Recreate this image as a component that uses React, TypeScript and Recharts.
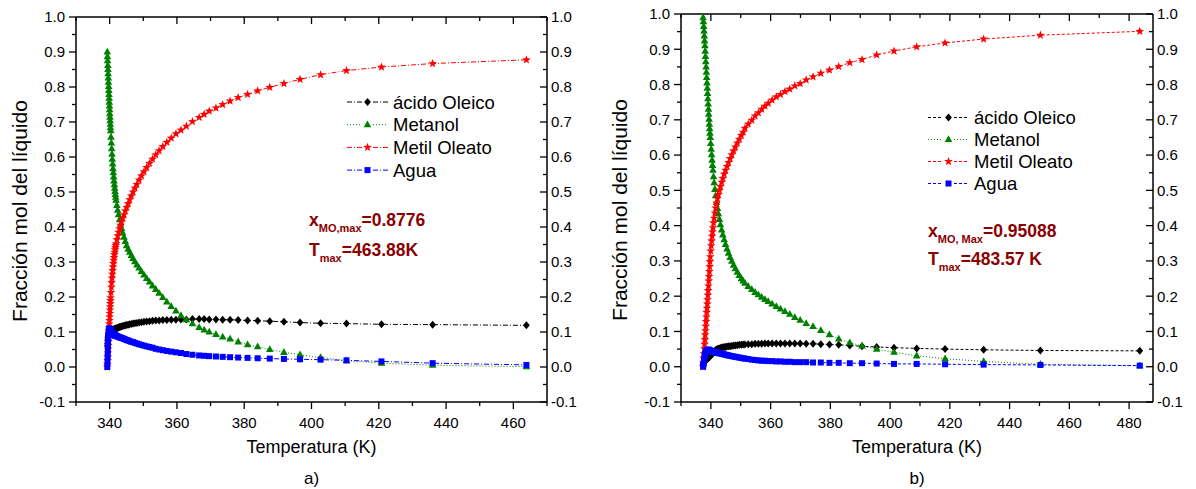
import { LineChart, Line, XAxis, YAxis } from "recharts";

const FONT = "Arial, 'Liberation Sans', Helvetica, sans-serif";
const ANNO = "#8b0000";

// ---- panel a) : temperature grid shared by the four species ----
const tempA = [
  339.3, 339.35, 339.4, 339.45, 339.5, 339.55, 339.6, 339.65, 339.7, 339.75, 339.8, 339.85, 339.9, 339.95, 340, 340.05, 340.1, 340.15, 340.2, 340.25, 340.3,
  340.4, 340.5, 340.6, 340.7, 340.8, 340.9, 341, 341.1, 341.2, 341.3, 341.4, 341.5, 341.6, 341.7, 341.8, 341.9,
  342.15, 342.4, 342.65, 342.95, 343.25, 343.55, 343.9, 344.25, 344.65, 345.05, 345.5, 345.95, 346.45, 346.95, 347.5, 348.1, 348.75, 349.45, 350.2, 351, 351.85, 352.75, 353.7, 354.7, 355.8, 357, 358.3, 359.7, 361.2, 362.8,
  364.6, 366.6, 368.1, 369.6, 371.6, 373.6, 375.8, 378.2, 381, 384, 387.6, 391.8, 396.6, 402.7, 410.4, 420.8, 436, 463.88,
];
const oleicoA = [
  0.06, 0.068, 0.075, 0.08, 0.084, 0.087, 0.089, 0.091, 0.092, 0.093, 0.094, 0.095, 0.096, 0.097, 0.097, 0.098, 0.098, 0.099, 0.099, 0.1, 0.1,
  0.101, 0.102, 0.103, 0.104, 0.104, 0.105, 0.106, 0.106, 0.107, 0.107, 0.108, 0.108, 0.109, 0.109, 0.11, 0.11,
  0.111, 0.112, 0.113, 0.114, 0.115, 0.116, 0.117, 0.118, 0.119, 0.12, 0.121, 0.122, 0.123, 0.124, 0.125, 0.126, 0.127, 0.128, 0.129, 0.13, 0.131, 0.132, 0.133, 0.133, 0.134, 0.134, 0.135, 0.135, 0.136, 0.136,
  0.137, 0.137, 0.137, 0.136, 0.136, 0.135, 0.135, 0.134, 0.133, 0.132, 0.131, 0.129, 0.127, 0.125, 0.124, 0.122, 0.121, 0.119,
];
const metanolA = [
  0.9, 0.887, 0.875, 0.862, 0.85, 0.838, 0.826, 0.814, 0.802, 0.79, 0.779, 0.768, 0.757, 0.746, 0.735, 0.724, 0.714, 0.704, 0.694, 0.684, 0.675,
  0.657, 0.64, 0.624, 0.608, 0.594, 0.58, 0.567, 0.555, 0.543, 0.532, 0.521, 0.511, 0.502, 0.493, 0.485, 0.477,
  0.462, 0.448, 0.435, 0.421, 0.408, 0.396, 0.383, 0.371, 0.359, 0.347, 0.337, 0.328, 0.319, 0.31, 0.301, 0.292, 0.283, 0.273, 0.263, 0.253, 0.243, 0.232, 0.222, 0.211, 0.199, 0.186, 0.173, 0.16, 0.147, 0.135,
  0.124, 0.113, 0.106, 0.1, 0.093, 0.086, 0.08, 0.072, 0.064, 0.058, 0.05, 0.042, 0.035, 0.027, 0.018, 0.011, 0.005, 0.001,
];
const oleatoA = [
  0, 0.008, 0.018, 0.029, 0.04, 0.051, 0.062, 0.073, 0.083, 0.093, 0.103, 0.113, 0.123, 0.133, 0.143, 0.153, 0.163, 0.172, 0.181, 0.19, 0.198,
  0.213, 0.228, 0.241, 0.254, 0.265, 0.276, 0.286, 0.296, 0.305, 0.313, 0.321, 0.328, 0.335, 0.341, 0.347, 0.352,
  0.364, 0.375, 0.385, 0.395, 0.405, 0.415, 0.425, 0.435, 0.446, 0.456, 0.467, 0.478, 0.489, 0.5, 0.511, 0.522, 0.534, 0.546, 0.558, 0.57, 0.582, 0.594, 0.606, 0.618, 0.63, 0.642, 0.654, 0.666, 0.677, 0.688,
  0.701, 0.713, 0.722, 0.731, 0.74, 0.75, 0.76, 0.77, 0.779, 0.789, 0.799, 0.81, 0.822, 0.835, 0.847, 0.857, 0.867, 0.8776,
];
const aguaA = [
  0, 0.015, 0.03, 0.045, 0.06, 0.072, 0.083, 0.092, 0.099, 0.104, 0.107, 0.109, 0.11, 0.11, 0.109, 0.108, 0.107, 0.106, 0.105, 0.104, 0.103,
  0.102, 0.1, 0.099, 0.098, 0.097, 0.096, 0.095, 0.094, 0.093, 0.092, 0.092, 0.091, 0.09, 0.09, 0.089, 0.089,
  0.088, 0.087, 0.086, 0.085, 0.084, 0.083, 0.082, 0.08, 0.079, 0.077, 0.076, 0.074, 0.072, 0.071, 0.069, 0.067, 0.065, 0.063, 0.061, 0.059, 0.057, 0.055, 0.052, 0.05, 0.048, 0.046, 0.044, 0.042, 0.04, 0.037,
  0.035, 0.033, 0.032, 0.031, 0.03, 0.029, 0.028, 0.027, 0.026, 0.025, 0.024, 0.023, 0.022, 0.021, 0.019, 0.016, 0.011, 0.006,
];

// ---- panel b) ----
const tempB = [
  337.4, 337.5, 337.6, 337.7, 337.8, 337.9, 338, 338.1, 338.2, 338.3, 338.4, 338.5, 338.6, 338.7, 338.8, 338.9, 339, 339.1, 339.2, 339.3, 339.4, 339.5, 339.6, 339.7, 339.8,
  339.95, 340.1, 340.25, 340.4, 340.55, 340.7, 340.9, 341.1, 341.35, 341.6, 341.9, 342.2, 342.5, 342.85, 343.2, 343.6, 344, 344.45, 344.9, 345.4, 345.9, 346.45, 347, 347.6, 348.2, 348.85, 349.5, 350.2, 350.8,
  351.4, 352.5, 353.7, 354.8, 355.9, 357, 358.1, 359.2, 360.5, 361.9, 363.3, 364.8, 366.4, 368.1, 369.9, 371.9, 374.2, 376.8, 379.7, 382.8, 386.5, 390.6, 395.5, 401.3, 408.9, 418.4, 431.3, 450.3, 483.57,
];
const oleicoB = [
  0.008, 0.01, 0.011, 0.012, 0.013, 0.014, 0.015, 0.016, 0.017, 0.018, 0.019, 0.02, 0.021, 0.022, 0.022, 0.023, 0.024, 0.025, 0.026, 0.026, 0.027, 0.028, 0.029, 0.029, 0.03,
  0.032, 0.033, 0.035, 0.036, 0.038, 0.039, 0.041, 0.043, 0.045, 0.047, 0.049, 0.05, 0.051, 0.052, 0.053, 0.054, 0.055, 0.056, 0.056, 0.057, 0.058, 0.058, 0.059, 0.06, 0.06, 0.061, 0.062, 0.062, 0.063,
  0.063, 0.064, 0.064, 0.065, 0.065, 0.065, 0.066, 0.066, 0.066, 0.066, 0.066, 0.066, 0.066, 0.066, 0.066, 0.065, 0.065, 0.064, 0.063, 0.062, 0.06, 0.058, 0.056, 0.054, 0.052, 0.05, 0.048, 0.046, 0.045,
];
const metanolB = [
  0.99, 0.978, 0.965, 0.952, 0.938, 0.924, 0.91, 0.895, 0.88, 0.865, 0.85, 0.835, 0.82, 0.805, 0.79, 0.775, 0.76, 0.745, 0.73, 0.716, 0.702, 0.688, 0.675, 0.662, 0.65,
  0.633, 0.617, 0.601, 0.586, 0.571, 0.557, 0.539, 0.522, 0.503, 0.485, 0.466, 0.449, 0.434, 0.418, 0.403, 0.388, 0.374, 0.36, 0.347, 0.334, 0.322, 0.31, 0.299, 0.288, 0.278, 0.268, 0.259, 0.25, 0.243,
  0.237, 0.228, 0.219, 0.211, 0.204, 0.197, 0.191, 0.185, 0.178, 0.171, 0.164, 0.157, 0.149, 0.14, 0.132, 0.123, 0.114, 0.103, 0.091, 0.079, 0.068, 0.059, 0.05, 0.041, 0.031, 0.023, 0.015, 0.007, 0.003,
];
const oleatoB = [
  0, 0.011, 0.024, 0.037, 0.051, 0.064, 0.077, 0.09, 0.102, 0.115, 0.128, 0.141, 0.154, 0.166, 0.178, 0.19, 0.203, 0.216, 0.229, 0.243, 0.256, 0.27, 0.284, 0.298, 0.312,
  0.328, 0.343, 0.357, 0.37, 0.382, 0.394, 0.408, 0.421, 0.436, 0.45, 0.464, 0.477, 0.488, 0.5, 0.511, 0.523, 0.534, 0.546, 0.557, 0.568, 0.579, 0.59, 0.601, 0.612, 0.623, 0.634, 0.645, 0.656, 0.665,
  0.676, 0.688, 0.699, 0.711, 0.72, 0.73, 0.739, 0.747, 0.756, 0.765, 0.772, 0.78, 0.787, 0.796, 0.803, 0.813, 0.822, 0.832, 0.841, 0.851, 0.862, 0.871, 0.884, 0.895, 0.907, 0.918, 0.929, 0.94, 0.95088,
];
const aguaB = [
  0, 0.006, 0.012, 0.018, 0.024, 0.029, 0.033, 0.036, 0.039, 0.041, 0.043, 0.044, 0.045, 0.046, 0.047, 0.047, 0.048, 0.048, 0.048, 0.048, 0.047, 0.047, 0.046, 0.046, 0.045,
  0.045, 0.044, 0.044, 0.044, 0.043, 0.043, 0.042, 0.042, 0.041, 0.041, 0.04, 0.04, 0.039, 0.038, 0.038, 0.037, 0.036, 0.035, 0.034, 0.033, 0.032, 0.031, 0.03, 0.029, 0.028, 0.027, 0.026, 0.025, 0.024,
  0.023, 0.022, 0.02, 0.019, 0.018, 0.017, 0.017, 0.016, 0.016, 0.015, 0.015, 0.014, 0.014, 0.013, 0.013, 0.013, 0.012, 0.012, 0.011, 0.011, 0.01, 0.01, 0.009, 0.008, 0.008, 0.007, 0.006, 0.005, 0.003,
];

// axes
const xTicksA = [330, 340, 350, 360, 370, 380, 390, 400, 410, 420, 430, 440, 450, 460, 470];
const xLabelsA = [340, 360, 380, 400, 420, 440, 460];
const xTicksB = [330, 340, 350, 360, 370, 380, 390, 400, 410, 420, 430, 440, 450, 460, 470, 480];
const xLabelsB = [340, 360, 380, 400, 420, 440, 460, 480];
const yTicks = [-0.1, -0.05, 0, 0.05, 0.1, 0.15, 0.2, 0.25, 0.3, 0.35, 0.4, 0.45, 0.5, 0.55, 0.6, 0.65, 0.7, 0.75, 0.8, 0.85, 0.9, 0.95, 1];
const yLabels = [-0.1, 0, 0.1, 0.2, 0.3, 0.4, 0.5, 0.6, 0.7, 0.8, 0.9, 1];

const legendNames = ["ácido Oleico", "Metanol", "Metil Oleato", "Agua"];
const keys = ["oleico", "metanol", "oleato", "agua"];

const rowsA = tempA.map((t, i) => ({ t, oleico: oleicoA[i], metanol: metanolA[i], oleato: oleatoA[i], agua: aguaA[i] }));
const rowsB = tempB.map((t, i) => ({ t, oleico: oleicoB[i], metanol: metanolB[i], oleato: oleatoB[i], agua: aguaB[i] }));

// marker shapes
const diamondPath = (x: number, y: number) => `M${x},${y - 4}L${x + 3.4},${y}L${x},${y + 4}L${x - 3.4},${y}Z`;
const trianglePath = (x: number, y: number) => `M${x},${y - 4.2}L${x + 3.8},${y + 2.6}L${x - 3.8},${y + 2.6}Z`;
const squarePath = (x: number, y: number) => `M${x - 3},${y - 3}h6v6h-6Z`;
const starPath = (x: number, y: number) => {
  const pts: string[] = [];
  for (let i = 0; i < 10; i++) {
    const r = i % 2 === 0 ? 4.6 : 1.9;
    const a = -Math.PI / 2 + (i * Math.PI) / 5;
    pts.push(`${(x + r * Math.cos(a)).toFixed(2)},${(y + r * Math.sin(a)).toFixed(2)}`);
  }
  return "M" + pts.join("L") + "Z";
};

const colors: Record<string, string> = { oleico: "#000000", metanol: "#008000", oleato: "#ff0000", agua: "#0000ff" };
const shapes: Record<string, (x: number, y: number) => string> = {
  oleico: diamondPath,
  metanol: trianglePath,
  oleato: starPath,
  agua: squarePath,
};
const dashA: Record<string, string> = { oleico: "5 2 1 2", metanol: "1 2", oleato: "5 2 1 2", agua: "5 2 1 2" };
const dashB: Record<string, string> = { oleico: "3 2", metanol: "1 2", oleato: "3 2", agua: "3 2" };

const isMajor = (v: number, labels: number[]) => labels.some((l) => Math.abs(l - v) < 1e-6);
const AXIS_LINE = { stroke: "#000", strokeWidth: 1.5 };

const tickBottom = (labels: number[]) => (p: any) => {
  const major = isMajor(p.payload.value, labels);
  return (
    <g key={`xb${p.index}`}>
      <line x1={p.x} y1={p.y} x2={p.x} y2={p.y + (major ? 7 : 4)} stroke="#000" strokeWidth={1.3} />
      {major && (
        <text x={p.x} y={p.y + 26} textAnchor="middle" fontSize={15} fontFamily={FONT} fill="#000">
          {p.payload.value}
        </text>
      )}
    </g>
  );
};

const tickTop = (labels: number[]) => (p: any) => {
  const major = isMajor(p.payload.value, labels);
  return <line key={`xt${p.index}`} x1={p.x} y1={p.y} x2={p.x} y2={p.y + (major ? 7 : 4)} stroke="#000" strokeWidth={1.3} />;
};

const tickLeft = (p: any) => {
  const major = isMajor(p.payload.value, yLabels);
  return (
    <g key={`yl${p.index}`}>
      <line x1={p.x - (major ? 7 : 4)} y1={p.y} x2={p.x} y2={p.y} stroke="#000" strokeWidth={1.3} />
      {major && (
        <text x={p.x - 11} y={p.y + 5.4} textAnchor="end" fontSize={15} fontFamily={FONT} fill="#000">
          {p.payload.value.toFixed(1)}
        </text>
      )}
    </g>
  );
};

const tickRight = (p: any) => {
  const major = isMajor(p.payload.value, yLabels);
  return (
    <g key={`yr${p.index}`}>
      <line x1={p.x - (major ? 7 : 4)} y1={p.y} x2={p.x} y2={p.y} stroke="#000" strokeWidth={1.3} />
      {major && (
        <text x={p.x + 4} y={p.y + 5.4} textAnchor="start" fontSize={15} fontFamily={FONT} fill="#000">
          {p.payload.value.toFixed(1)}
        </text>
      )}
    </g>
  );
};

const markerFor = (k: string) => (p: any) => {
  if (p.cx == null || p.cy == null) return <g key={`${k}${p.index}`} />;
  return <path key={`${k}${p.index}`} d={shapes[k](p.cx, p.cy)} fill={colors[k]} stroke="none" />;
};

function Panel({ rows, domain, ticks, labels, width, margin, dash }: any) {
  return (
    <LineChart width={width} height={489} data={rows} margin={margin}>
      <XAxis
        dataKey="t"
        type="number"
        domain={domain}
        ticks={ticks}
        interval={0}
        allowDataOverflow
        height={30}
        tickSize={0}
        tickMargin={0}
        tickLine={false}
        axisLine={AXIS_LINE}
        tick={tickBottom(labels)}
      />
      <XAxis
        xAxisId="top"
        orientation="top"
        dataKey="t"
        type="number"
        domain={domain}
        ticks={ticks}
        interval={0}
        allowDataOverflow
        height={1}
        tickSize={0}
        tickMargin={0}
        tickLine={false}
        axisLine={AXIS_LINE}
        tick={tickTop(labels)}
      />
      <YAxis
        type="number"
        domain={[-0.1, 1]}
        ticks={yTicks}
        interval={0}
        allowDataOverflow
        width={60}
        tickSize={0}
        tickMargin={0}
        tickLine={false}
        axisLine={AXIS_LINE}
        tick={tickLeft}
      />
      <YAxis
        yAxisId="right"
        orientation="right"
        type="number"
        domain={[-0.1, 1]}
        ticks={yTicks}
        interval={0}
        allowDataOverflow
        width={40}
        tickSize={0}
        tickMargin={0}
        tickLine={false}
        axisLine={AXIS_LINE}
        tick={tickRight}
      />
      {keys.map((k) => (
        <Line
          key={k}
          dataKey={k}
          type="linear"
          stroke={colors[k]}
          strokeWidth={1}
          strokeDasharray={dash[k]}
          dot={markerFor(k)}
          activeDot={false}
          isAnimationActive={false}
        />
      ))}
    </LineChart>
  );
}

function Legend({ x0, baseline0, step, dash }: any) {
  return (
    <g>
      {legendNames.map((name, i) => {
        const k = keys[i];
        const by = baseline0 + i * step;
        const cy = by - 6.5;
        return (
          <g key={k}>
            <line x1={x0} y1={cy} x2={x0 + 15} y2={cy} stroke={colors[k]} strokeWidth={1} strokeDasharray={dash[k]} />
            <line x1={x0 + 26} y1={cy} x2={x0 + 41} y2={cy} stroke={colors[k]} strokeWidth={1} strokeDasharray={dash[k]} />
            <path d={shapes[k](x0 + 20.5, cy)} fill={colors[k]} />
            <text x={x0 + 46} y={by} fontSize={18.5} fontFamily={FONT} fill="#000">
              {name}
            </text>
          </g>
        );
      })}
    </g>
  );
}

export default function App() {
  return (
    <div style={{ position: "absolute", left: 0, top: 0, width: 1196, height: 489, background: "#fff" }}>
      <div style={{ position: "absolute", left: 0, top: 0 }}>
        <Panel
          rows={rowsA}
          domain={[330, 470]}
          ticks={xTicksA}
          labels={xLabelsA}
          width={600}
          margin={{ top: 16, right: 13, bottom: 57, left: 16 }}
          dash={dashA}
        />
      </div>
      <div style={{ position: "absolute", left: 600, top: 0 }}>
        <Panel
          rows={rowsB}
          domain={[330, 488]}
          ticks={xTicksB}
          labels={xLabelsB}
          width={596}
          margin={{ top: 13, right: 3, bottom: 57, left: 21 }}
          dash={dashB}
        />
      </div>
      <svg
        width={1196}
        height={489}
        style={{ position: "absolute", left: 0, top: 0, pointerEvents: "none" }}
      >
        {/* axis titles */}
        <text transform="translate(27,211) rotate(-90)" textAnchor="middle" fontSize={21} fontFamily={FONT}>
          Fracción mol del líquido
        </text>
        <text transform="translate(627,210) rotate(-90)" textAnchor="middle" fontSize={21} fontFamily={FONT}>
          Fracción mol del líquido
        </text>
        <text x={311.5} y={453} textAnchor="middle" fontSize={18} fontFamily={FONT}>
          Temperatura (K)
        </text>
        <text x={917} y={453} textAnchor="middle" fontSize={18} fontFamily={FONT}>
          Temperatura (K)
        </text>
        <text x={311.5} y={484} textAnchor="middle" fontSize={17} fontFamily={FONT}>
          a)
        </text>
        <text x={917} y={484} textAnchor="middle" fontSize={17} fontFamily={FONT}>
          b)
        </text>

        {/* legends */}
        <Legend x0={347} baseline0={108.5} step={22.7} dash={dashA} />
        <Legend x0={928} baseline0={124} step={22} dash={dashB} />

        {/* annotations */}
        <text x={309} y={226} fill={ANNO} fontFamily={FONT} fontWeight="bold" fontSize={17.5}>
          x<tspan fontSize={11} dy={6}>MO,max</tspan>
          <tspan dy={-6}>=0.8776</tspan>
        </text>
        <text x={309} y={256} fill={ANNO} fontFamily={FONT} fontWeight="bold" fontSize={17.5}>
          T<tspan fontSize={11} dy={6}>max</tspan>
          <tspan dy={-6}>=463.88K</tspan>
        </text>
        <text x={928} y={237} fill={ANNO} fontFamily={FONT} fontWeight="bold" fontSize={17.5}>
          x<tspan fontSize={11} dy={6}>MO, Max</tspan>
          <tspan dy={-6}>=0.95088</tspan>
        </text>
        <text x={928} y={265} fill={ANNO} fontFamily={FONT} fontWeight="bold" fontSize={17.5}>
          T<tspan fontSize={11} dy={6}>max</tspan>
          <tspan dy={-6}>=483.57 K</tspan>
        </text>
      </svg>
    </div>
  );
}
